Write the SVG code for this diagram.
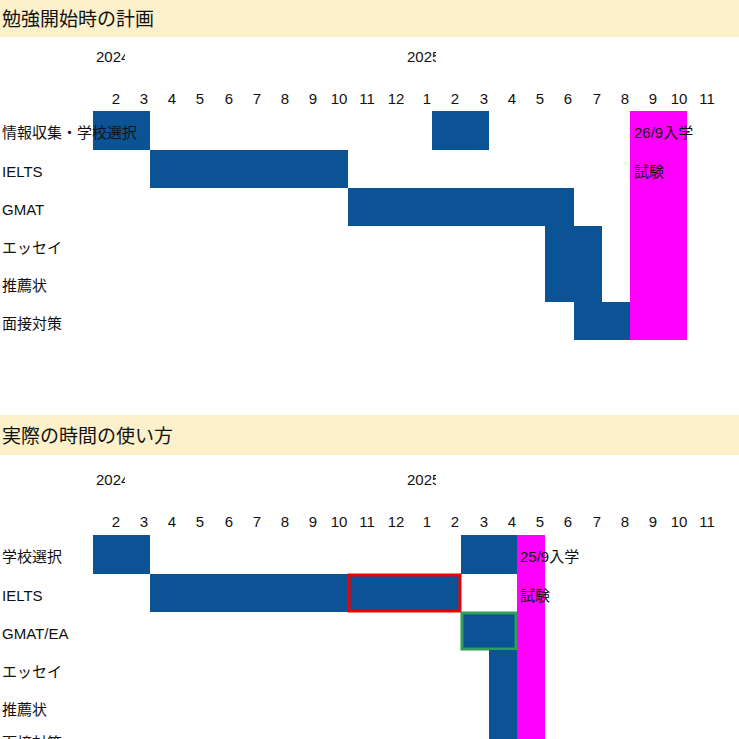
<svg xmlns="http://www.w3.org/2000/svg" width="739" height="739" viewBox="0 0 739 739">
<style>
.h{fill:#fdf1cc}
.ht{font-family:"Liberation Sans","Noto Sans CJK JP",sans-serif;font-size:19px;fill:#111}
.t{font-family:"Liberation Sans","Noto Sans CJK JP",sans-serif;font-size:15px;fill:#111}
.b{fill:#0b5394}
.m{fill:#ff00ff}
</style>
<rect width="739" height="739" fill="#fff"/>
<g id="header1"><rect class="h" x="0" y="0" width="739" height="37"/><text class="ht" x="2" y="26">勉強開始時の計画</text></g>
<g id="header2"><rect class="h" x="0" y="415" width="739" height="40"/><text class="ht" x="2" y="443">実際の時間の使い方</text></g>
<defs>
<clipPath id="c1"><rect x="90" y="0" width="35" height="739"/></clipPath>
<clipPath id="c2"><rect x="400" y="0" width="36" height="739"/></clipPath>
<g id="months" class="t" text-anchor="middle">
<text x="116">2</text><text x="144">3</text><text x="172">4</text><text x="200">5</text><text x="229">6</text><text x="257">7</text><text x="285">8</text><text x="313">9</text><text x="339">10</text><text x="367">11</text><text x="396">12</text><text x="427">1</text><text x="455">2</text><text x="484">3</text><text x="512">4</text><text x="540">5</text><text x="568">6</text><text x="597">7</text><text x="625">8</text><text x="653">9</text><text x="679">10</text><text x="707">11</text>
</g>
</defs>
<g id="chart1">
<text class="t" x="96" y="62" clip-path="url(#c1)">2024</text>
<text class="t" x="407" y="62" clip-path="url(#c2)">2025</text>
<use href="#months" y="104"/>
<rect class="b" x="93" y="111" width="57" height="39"/>
<rect class="b" x="432" y="111" width="57" height="39"/>
<rect class="b" x="150" y="150" width="198" height="38"/>
<rect class="b" x="348" y="188" width="226" height="38"/>
<rect class="b" x="545" y="226" width="57" height="76"/>
<rect class="b" x="574" y="302" width="56" height="38"/>
<rect class="m" x="630" y="111" width="57" height="229"/>
<text class="t" x="634" y="138">26/9入学</text>
<text class="t" x="634" y="177">試験</text>
<text class="t" x="2" y="138">情報収集・学校選択</text>
<text class="t" x="2" y="177">IELTS</text>
<text class="t" x="2" y="215">GMAT</text>
<text class="t" x="2" y="253">エッセイ</text>
<text class="t" x="2" y="291">推薦状</text>
<text class="t" x="2" y="329">面接対策</text>
</g>
<g id="chart2">
<text class="t" x="96" y="485" clip-path="url(#c1)">2024</text>
<text class="t" x="407" y="485" clip-path="url(#c2)">2025</text>
<use href="#months" y="527"/>
<rect class="b" x="93" y="535" width="57" height="39"/>
<rect class="b" x="461" y="535" width="56" height="39"/>
<rect class="b" x="150" y="574" width="311" height="38"/>
<rect x="349" y="575" width="111" height="36" fill="none" stroke="#e00" stroke-width="3"/>
<rect class="b" x="461" y="612" width="56" height="38"/>
<rect x="462" y="613" width="54" height="36" fill="none" stroke="#2e9e5a" stroke-width="3"/>
<rect class="b" x="489" y="650" width="28" height="89"/>
<rect class="m" x="517" y="535" width="28" height="204"/>
<text class="t" x="520" y="562">25/9入学</text>
<text class="t" x="520" y="601">試験</text>
<text class="t" x="2" y="562">学校選択</text>
<text class="t" x="2" y="601">IELTS</text>
<text class="t" x="2" y="639">GMAT/EA</text>
<text class="t" x="2" y="677">エッセイ</text>
<text class="t" x="2" y="715">推薦状</text>
<text class="t" x="2" y="748">面接対策</text>
</g>
</svg>
